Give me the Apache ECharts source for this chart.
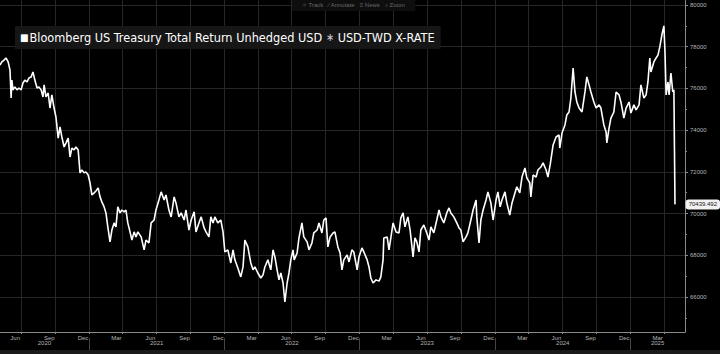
<!DOCTYPE html>
<html>
<head>
<meta charset="utf-8">
<title>Bloomberg US Treasury Total Return Unhedged USD * USD-TWD X-RATE</title>
<script src="https://cdn.jsdelivr.net/npm/echarts@6.0.0/dist/echarts.min.js"></script>
<style>
  html, body { margin: 0; padding: 0; background: #000; }
  #chart { width: 720px; height: 354px; }
</style>
</head>
<body>
<div id="chart"></div>
<script>
// roughly weekly
const dates = [
  '2020-05-05','2020-05-10','2020-05-16','2020-05-21','2020-05-27','2020-06-01','2020-06-04','2020-06-06','2020-06-09','2020-06-14',
  '2020-06-20','2020-06-25','2020-07-01','2020-07-06','2020-07-11','2020-07-17','2020-07-22','2020-07-28','2020-08-02','2020-08-07',
  '2020-08-13','2020-08-18','2020-08-24','2020-08-29','2020-09-01','2020-09-06','2020-09-12','2020-09-17','2020-09-22','2020-09-28',
  '2020-10-03','2020-10-09','2020-10-14','2020-10-19','2020-10-25','2020-10-30','2020-11-05','2020-11-10','2020-11-15','2020-11-21',
  '2020-11-26','2020-12-02','2020-12-07','2020-12-12','2020-12-18','2020-12-23','2020-12-29','2021-01-03','2021-01-08','2021-01-14',
  '2021-01-19','2021-01-25','2021-01-30','2021-02-04','2021-02-10','2021-02-15','2021-02-20','2021-02-26','2021-03-03','2021-03-09',
  '2021-03-14','2021-03-19','2021-03-25','2021-03-30','2021-04-05','2021-04-10','2021-04-15','2021-04-21','2021-04-26','2021-05-02',
  '2021-05-07','2021-05-12','2021-05-21','2021-05-29','2021-06-03','2021-06-11','2021-06-17','2021-06-25','2021-06-30','2021-07-08',
  '2021-07-14','2021-07-22','2021-07-27','2021-08-04','2021-08-10','2021-08-18','2021-08-23','2021-08-31','2021-09-06','2021-09-14',
  '2021-09-19','2021-09-27','2021-10-03','2021-10-11','2021-10-16','2021-10-24','2021-10-30','2021-11-07','2021-11-12','2021-11-20',
  '2021-11-25','2021-12-01','2021-12-06','2021-12-14','2021-12-22','2021-12-28','2022-01-02','2022-01-10','2022-01-18','2022-01-24',
  '2022-01-29','2022-02-06','2022-02-14','2022-02-20','2022-02-25','2022-03-05','2022-03-13','2022-03-19','2022-03-24','2022-04-01',
  '2022-04-09','2022-04-15','2022-04-20','2022-04-28','2022-05-06','2022-05-12','2022-05-17','2022-05-23','2022-05-28','2022-06-02',
  '2022-06-08','2022-06-13','2022-06-19','2022-06-24','2022-06-29','2022-07-05','2022-07-08','2022-07-16','2022-07-21','2022-07-29',
  '2022-08-03','2022-08-12','2022-08-17','2022-08-25','2022-08-30','2022-09-08','2022-09-13','2022-09-21','2022-09-26','2022-10-02',
  '2022-10-07','2022-10-13','2022-10-21','2022-10-26','2022-11-03','2022-11-09','2022-11-14','2022-11-19','2022-11-28','2022-12-03',
  '2022-12-11','2022-12-16','2022-12-25','2022-12-30','2023-01-07','2023-01-12','2023-01-21','2023-01-26','2023-01-31','2023-02-06',
  '2023-02-14','2023-02-22','2023-02-27','2023-03-05','2023-03-07','2023-03-16','2023-03-21','2023-03-26','2023-04-01','2023-04-09',
  '2023-04-17','2023-04-22','2023-04-28','2023-05-03','2023-05-11','2023-05-17','2023-05-25','2023-05-30','2023-06-04','2023-06-10',
  '2023-06-15','2023-06-23','2023-07-01','2023-07-07','2023-07-12','2023-07-20','2023-07-28','2023-08-03','2023-08-08','2023-08-16',
  '2023-08-24','2023-08-30','2023-09-04','2023-09-12','2023-09-20','2023-09-26','2023-10-01','2023-10-07','2023-10-15','2023-10-20',
  '2023-10-28','2023-11-03','2023-11-11','2023-11-13','2023-11-19','2023-11-24','2023-11-30','2023-12-08','2023-12-13','2023-12-21',
  '2023-12-27','2024-01-04','2024-01-09','2024-01-15','2024-01-20','2024-01-28','2024-02-02','2024-02-10','2024-02-16','2024-02-24',
  '2024-02-29','2024-03-08','2024-03-14','2024-03-22','2024-03-27','2024-04-04','2024-04-07','2024-04-13','2024-04-21','2024-04-26',
  '2024-05-04','2024-05-10','2024-05-18','2024-05-23','2024-05-29','2024-06-06','2024-06-14','2024-06-22','2024-06-24','2024-06-30',
  '2024-07-08','2024-07-13','2024-07-19','2024-07-24','2024-07-30','2024-08-04','2024-08-09','2024-08-15','2024-08-23','2024-08-31',
  '2024-09-05','2024-09-11','2024-09-16','2024-09-24','2024-09-30','2024-10-08','2024-10-13','2024-10-21','2024-10-27','2024-10-29',
  '2024-11-04','2024-11-09','2024-11-17','2024-11-23','2024-12-01','2024-12-06','2024-12-14','2024-12-20','2024-12-28','2025-01-02',
  '2025-01-10','2025-01-16','2025-01-24','2025-01-29','2025-02-06','2025-02-12','2025-02-17','2025-02-22','2025-02-25','2025-03-05',
  '2025-03-11','2025-03-16','2025-03-21','2025-03-27','2025-04-01','2025-04-04','2025-04-07','2025-04-12','2025-04-15','2025-04-20',
  '2025-04-25','2025-04-28','2025-05-01'
];
const values = [
  77120,77270,77360,77460,77270,76880,75540,76400,75930,76070,
  75930,76020,75930,76260,76400,76310,76500,76550,76790,76400,
  76020,76070,75930,75590,76170,75590,75780,75060,75690,75060,
  74630,73620,74150,73670,73190,73380,73620,72710,73140,73050,
  73190,73050,71950,72090,71950,72000,71850,71470,70890,70990,
  71080,71230,70800,70560,70320,70030,69360,68640,69210,69550,
  69360,70320,70030,70170,70080,70170,69550,69120,68730,69120,
  68880,69120,68880,68260,68730,68590,69550,69690,70170,70650,
  71040,70650,70890,70170,69840,70800,70510,69840,70030,69690,
  70170,69210,69690,70080,69120,69550,69840,69310,69120,68880,
  69840,69550,69840,69550,69690,69120,68160,68260,67630,68260,
  67780,67390,66960,67440,68730,68400,67630,67300,67440,67150,
  66910,67060,67440,67780,67300,68260,67920,67300,66820,67150,
  66670,65760,66670,67150,67780,68260,67780,68110,68830,69550,
  68880,68640,68260,68590,69070,69210,69550,69070,69690,69790,
  68400,68880,69070,69120,68400,68110,67300,67780,68020,67680,
  68260,68160,67300,67920,68350,68160,67780,67440,66910,66670,
  66820,66760,66960,67780,68830,68880,68260,68830,69550,69120,
  69070,69790,70030,69360,69840,69210,67920,68830,68640,68160,
  69210,69450,69070,68730,69360,69070,69690,70170,69840,69550,
  70030,70270,70030,69840,69550,69310,69210,68640,68880,69070,
  69690,70170,70650,69840,68590,69690,70170,70650,71040,70510,
  69690,70650,71040,70320,70650,71040,70510,69930,70510,70990,
  71280,70990,71750,72190,71710,71470,70800,71850,71750,72090,
  72230,72430,72090,71750,72330,73290,73670,73770,73140,73860,
  74250,74730,74870,75540,76980,75830,75350,75060,74870,75830,
  76550,76170,75830,75350,75060,75210,75060,74250,73910,73390,
  74100,74580,74870,75830,75690,75350,74580,75060,75350,74820,
  75210,74970,75210,76170,75540,75690,76310,77460,76790,77270,
  77460,77600,77990,78600,79000,77750,75690,76310,75690,76740,
  75830,75930,70439.492
];

// axis ticks and labels
const yTicks = [66000, 68000, 70000, 72000, 74000, 76000, 78000, 80000];
const yMinorTicks = [65000, 67000, 69000, 71000, 73000, 75000, 77000, 79000];
const quarterStarts = [
  '2020-07-01','2020-10-01','2021-01-01','2021-04-01','2021-07-01','2021-10-01','2022-01-01','2022-04-01',
  '2022-07-01','2022-10-01','2023-01-01','2023-04-01','2023-07-01','2023-10-01','2024-01-01','2024-04-01',
  '2024-07-01','2024-10-01','2025-01-01','2025-04-01'
];
const monthLabelDates = [
  '2020-06-15','2020-09-15','2020-12-15','2021-03-15','2021-06-15','2021-09-15','2021-12-15','2022-03-15',
  '2022-06-15','2022-09-15','2022-12-15','2023-03-15','2023-06-15','2023-09-15','2023-12-15','2024-03-15',
  '2024-06-15','2024-09-15','2024-12-15','2025-03-15'
];
const monthNames = ['Jan','Feb','Mar','Apr','May','Jun','Jul','Aug','Sep','Oct','Nov','Dec'];
const yearStarts = ['2021-01-01','2022-01-01','2023-01-01','2024-01-01','2025-01-01'];
const yearLabelDates = ['2020-09-02','2021-07-02','2022-07-02','2023-07-02','2024-07-02','2025-03-15'];

const xMin = '2020-05-05';
const xMax = '2025-05-28';
const lastValue = values[values.length - 1];

// date string -> timestamp (dates go on a plain value axis)
function ts(d) {
  let p = d.split('-');
  return Date.UTC(+p[0], +p[1] - 1, +p[2]);
}

let chart = echarts.init(document.getElementById('chart'), null, { renderer: 'svg' });

let axisFont = { color: '#b4b4b4', fontSize: 6, fontFamily: 'Liberation Sans, Arial, sans-serif' };

chart.setOption({
  backgroundColor: '#000',
  animation: false,
  title: [
    {
      text: '{sq|■}Bloomberg US Treasury Total Return Unhedged USD {st|∗} USD-TWD X-RATE',
      left: 15,
      top: 26,
      padding: [5, 6, 5, 5],
      backgroundColor: '#161616',
      textStyle: {
        color: '#ffffff',
        fontSize: 12.6,
        fontWeight: 'normal',
        fontFamily: 'Liberation Sans Narrow, DejaVu Sans Condensed, sans-serif',
        rich: {
          sq: { color: '#ffffff', fontSize: 10, padding: [0, 1, 0, 0] },
          st: { color: '#cfcfcf', fontSize: 11 }
        }
      }
    },
    {
      text: '✧ Track   ⁄ Annotate   ≡ News   ⌕ Zoom',
      left: 292,
      top: 0,
      padding: [2, 10, 3, 10],
      backgroundColor: '#0e0e0e',
      textStyle: { color: '#6a6a6a', fontSize: 6, fontWeight: 'normal', fontFamily: 'Liberation Sans, sans-serif' }
    }
  ],
  grid: { left: 0, right: 35, top: 0, bottom: 22, containLabel: false },
  xAxis: [
    {
      type: 'value',
      min: ts(xMin),
      max: ts(xMax),
      axisLine: { show: true, onZero: false, lineStyle: { color: '#8a8a8a', width: 1 } },
      axisTick: { show: true, customValues: quarterStarts.map(ts), length: 2, lineStyle: { color: '#8a8a8a' } },
      splitLine: { show: true, lineStyle: { color: '#262626', width: 1 } },
      axisLabel: {
        customValues: monthLabelDates.map(ts),
        margin: 3,
        ...axisFont,
        formatter: function (val) {
          return monthNames[new Date(val).getUTCMonth()];
        }
      }
    },
    {
      type: 'value',
      min: ts(xMin),
      max: ts(xMax),
      position: 'bottom',
      offset: 6,
      axisLine: { show: false, onZero: false },
      axisTick: { show: true, customValues: yearStarts.map(ts), length: 12, lineStyle: { color: '#444' } },
      splitLine: { show: false },
      axisLabel: {
        customValues: yearLabelDates.map(ts),
        margin: 2,
        ...axisFont,
        formatter: function (val) {
          return String(new Date(val).getUTCFullYear());
        }
      }
    }
  ],
  yAxis: [
    {
      type: 'value',
      position: 'right',
      min: 64320,
      max: 80240,
      axisLine: { show: true, lineStyle: { color: '#8a8a8a', width: 1 } },
      axisTick: { show: true, customValues: yTicks, length: 3, lineStyle: { color: '#8a8a8a' } },
      splitLine: { show: true, lineStyle: { color: '#262626', width: 1 } },
      axisLabel: {
        customValues: yTicks,
        margin: 5,
        ...axisFont,
        formatter: function (v) { return String(v); }
      },
      axisPointer: {
        show: true,
        value: lastValue,
        status: 'show',
        snap: false,
        triggerTooltip: false,
        lineStyle: { opacity: 0 },
        label: {
          show: true,
          backgroundColor: '#f2f2f2',
          color: '#111',
          fontSize: 6,
          fontFamily: 'Liberation Sans, sans-serif',
          padding: [2, 3],
          margin: 2,
          formatter: function () { return lastValue.toFixed(3); }
        }
      }
    },
    {
      type: 'value',
      position: 'right',
      min: 64320,
      max: 80240,
      axisLine: { show: false },
      axisTick: { show: true, customValues: yMinorTicks, length: 2, lineStyle: { color: '#8a8a8a' } },
      splitLine: { show: false },
      axisLabel: { show: false }
    }
  ],
  graphic: [
    { type: 'rect', left: 0, bottom: 0, shape: { width: 720, height: 4 }, style: { fill: '#1a1a1a' } }
  ],
  series: [
    {
      name: 'USD-TWD X-RATE',
      type: 'line',
      xAxisIndex: 0,
      yAxisIndex: 0,
      data: dates.map((d, i) => [ts(d), values[i]]),
      showSymbol: false,
      symbol: 'none',
      lineStyle: { color: '#ffffff', width: 1.6 },
      silent: true
    }
  ]
});
</script>
</body>
</html>
